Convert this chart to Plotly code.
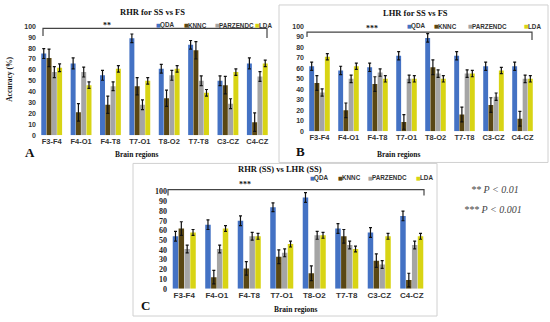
import plotly.graph_objects as go

regions = ["F3-F4", "F4-O1", "F4-T8", "T7-O1", "T8-O2", "T7-T8", "C3-CZ", "C4-CZ"]
classifiers = ["QDA", "KNNC", "PARZENDC", "LDA"]
colors = {"QDA": "#4472C4", "KNNC": "#5A4713", "PARZENDC": "#A5A5A5", "LDA": "#D8D414"}

# Panel A: RHR for SS vs FS
a_qda = [75, 66, 55, 89, 61, 83, 50, 66]
a_knnc = [71, 21, 28, 45, 34, 78, 46, 12]
a_parz = [58, 58, 45, 28, 55, 50, 29, 54]
a_lda = [62, 46, 61, 50, 61, 39, 58, 66]
a_qda_err = [4.5, 5, 4.5, 4, 4, 4, 4.5, 5]
a_knnc_err = [8, 8, 8, 8, 7.5, 8, 8, 8.5]
a_parz_err = [5, 4.5, 4, 4.5, 4.5, 4.5, 4.5, 4.5]
a_lda_err = [3.5, 3, 3, 3, 3, 3, 3, 3]

# Panel B: LHR for SS vs FS
b_qda = [62, 58, 61, 72, 89, 72, 62, 62]
b_knnc = [46, 20, 45, 9, 61, 16, 25, 12]
b_parz = [37, 50, 56, 50, 55, 55, 33, 50]
b_lda = [71, 62, 50, 50, 50, 55, 58, 50]
b_qda_err = [4, 4, 4, 4, 4, 4, 4, 4]
b_knnc_err = [7, 7, 7, 7, 7, 7, 7, 7]
b_parz_err = [3.5, 3.5, 3.5, 3.5, 3.5, 3.5, 3.5, 3.5]
b_lda_err = [3, 3, 3, 3, 3, 3, 3, 3]

# Panel C: RHR (SS) vs LHR (SS)
c_qda = [54, 66, 70, 84, 94, 62, 58, 75]
c_knnc = [62, 12, 21, 33, 16, 54, 29, 9]
c_parz = [41, 41, 54, 37, 55, 45, 25, 45]
c_lda = [58, 62, 54, 46, 55, 41, 54, 54]
c_qda_err = [5, 5, 5, 4.5, 5, 5, 5, 5]
c_knnc_err = [7, 7, 7, 7, 7.5, 7, 7, 7]
c_parz_err = [4, 4, 4, 4, 4, 4, 4, 4]
c_lda_err = [3, 3, 3, 3, 3, 3, 3, 3]

y_ticks = [0, 10, 20, 30, 40, 50, 60, 70, 80, 90, 100]

W, H = 550, 322


def px(x):
    return x / W


def py(y):
    return 1 - y / H


fig = go.Figure()

panels = [
    ("x", "y", [a_qda, a_knnc, a_parz, a_lda], [a_qda_err, a_knnc_err, a_parz_err, a_lda_err]),
    ("x2", "y2", [b_qda, b_knnc, b_parz, b_lda], [b_qda_err, b_knnc_err, b_parz_err, b_lda_err]),
    ("x3", "y3", [c_qda, c_knnc, c_parz, c_lda], [c_qda_err, c_knnc_err, c_parz_err, c_lda_err]),
]

for xa, ya, vals, errs in panels:
    for name, v, e in zip(classifiers, vals, errs):
        fig.add_trace(go.Bar(
            x=regions, y=v, name=name, xaxis=xa, yaxis=ya,
            marker=dict(color=colors[name], line=dict(width=0)),
            error_y=dict(type="data", array=e, color="#111111", thickness=1.2, width=1.5),
            showlegend=False,
        ))

tick_sans = dict(family="Liberation Sans Narrow, Liberation Sans, Arial", size=7.5, color="#333333", weight="bold")
tick_serif = dict(family="Liberation Serif, Times New Roman", size=8, color="#222222", weight="bold")

dom = {
    "A": dict(x=[px(37), px(272)], y=[py(135), py(23)]),
    "B": dict(x=[px(305), px(537)], y=[py(131), py(23)]),
    "C": dict(x=[px(168), px(428)], y=[py(293), py(193)]),
}

common_x = dict(showgrid=False, zeroline=False, showline=False, ticks="", type="category")
common_y = dict(showgrid=False, zeroline=False, showline=False, ticks="", range=[0, 100],
                tickvals=y_ticks, fixedrange=True)

fig.update_layout(
    width=W, height=H, autosize=False,
    margin=dict(l=0, r=0, t=0, b=0),
    paper_bgcolor="white", plot_bgcolor="white",
    barmode="group", bargap=0.28, bargroupgap=0.06,
    xaxis=dict(domain=dom["A"]["x"], anchor="y", tickfont=tick_sans, **common_x),
    yaxis=dict(domain=dom["A"]["y"], anchor="x", tickfont=dict(tick_sans, size=7), **common_y),
    xaxis2=dict(domain=dom["B"]["x"], anchor="y2", tickfont=tick_sans, **common_x),
    yaxis2=dict(domain=dom["B"]["y"], anchor="x2", tickfont=dict(tick_sans, size=7), **common_y),
    xaxis3=dict(domain=dom["C"]["x"], anchor="y3", tickfont=dict(tick_sans, size=8), **common_x),
    yaxis3=dict(domain=dom["C"]["y"], anchor="x3", tickfont=tick_serif, **common_y),
)

serif = "Liberation Serif, Times New Roman"
ann = []


def text(x, y, t, size, family=serif, color="#111111", bold=True, italic=False, angle=0, xanchor="center"):
    s = t
    if italic:
        s = "<i>" + s + "</i>"
    if bold:
        s = "<b>" + s + "</b>"
    ann.append(dict(x=px(x), y=py(y), xref="paper", yref="paper", text=s, showarrow=False,
                    font=dict(family=family, size=size, color=color), textangle=angle,
                    xanchor=xanchor, yanchor="middle"))


# titles
text(152, 8, "RHR for SS vs FS", 8.5)
text(415, 9, "LHR for SS vs FS", 8.5)
text(280, 170, "RHR (SS) vs LHR (SS)", 8.5)
# axis titles
text(136, 155, "Brain regions", 7.5)
text(398, 155, "Brain regions", 7.5)
text(295, 314, "Brain regions", 7.5)
text(10, 78, "Accuracy (%)", 7.5, angle=-90)
# panel letters
text(30, 153, "A", 13)
text(300, 152, "B", 13)
text(145, 310, "C", 13)
# significance stars
text(107, 22, "**", 8)
text(372, 25, "***", 8)
text(245, 186, "***", 8)
# p-value notes
text(495, 191, "** P &lt; 0.01", 10, color="#444444", bold=False, italic=True)
text(493, 211, "*** P &lt; 0.001", 10, color="#444444", bold=False, italic=True)

# legends drawn as marker + text rows (left x of each marker)
legend_rows = [
    (22, [154, 182, 213, 253]),
    (23, [405, 432, 466, 522]),
    (179, [308, 336, 366, 414]),
]
for ly, xs in legend_rows:
    for name, lx in zip(classifiers, xs):
        ann.append(dict(x=px(lx), y=py(ly), xref="paper", yref="paper", showarrow=False,
                        xanchor="left", yanchor="middle", text="■",
                        font=dict(family="DejaVu Sans", size=5, color=colors[name])))
        ann.append(dict(x=px(lx + 4), y=py(ly), xref="paper", yref="paper", showarrow=False,
                        xanchor="left", yanchor="middle", text="<b>%s</b>" % name,
                        font=dict(family="Liberation Sans, Arial", size=6.3, color="#333333")))

fig.update_layout(annotations=ann)

shapes = []


def bracket(x0, x1, ytop, yl, yr):
    shapes.append(dict(type="path", xref="paper", yref="paper",
                       path="M %f %f L %f %f L %f %f L %f %f" % (px(x0), py(yl), px(x0), py(ytop), px(x1), py(ytop), px(x1), py(yr)),
                       line=dict(color="#444444", width=1.2)))


bracket(43, 267, 25, 33, 35)
bracket(307, 532, 29, 34, 37)
bracket(168, 424, 191, 197, 197)

# panel frames
frame = dict(type="rect", xref="paper", yref="paper", line=dict(color="#D0D0D0", width=1), fillcolor="rgba(0,0,0,0)", layer="below")
shapes.append(dict(frame, x0=px(279), x1=px(548), y0=py(163), y1=py(1)))
shapes.append(dict(frame, x0=px(133), x1=px(437), y0=py(321), y1=py(164)))

fig.update_layout(shapes=shapes)

fig.write_html("out.html", config={"displayModeBar": False},
               post_script="document.body.style.margin='0';document.body.style.overflow='hidden';")
